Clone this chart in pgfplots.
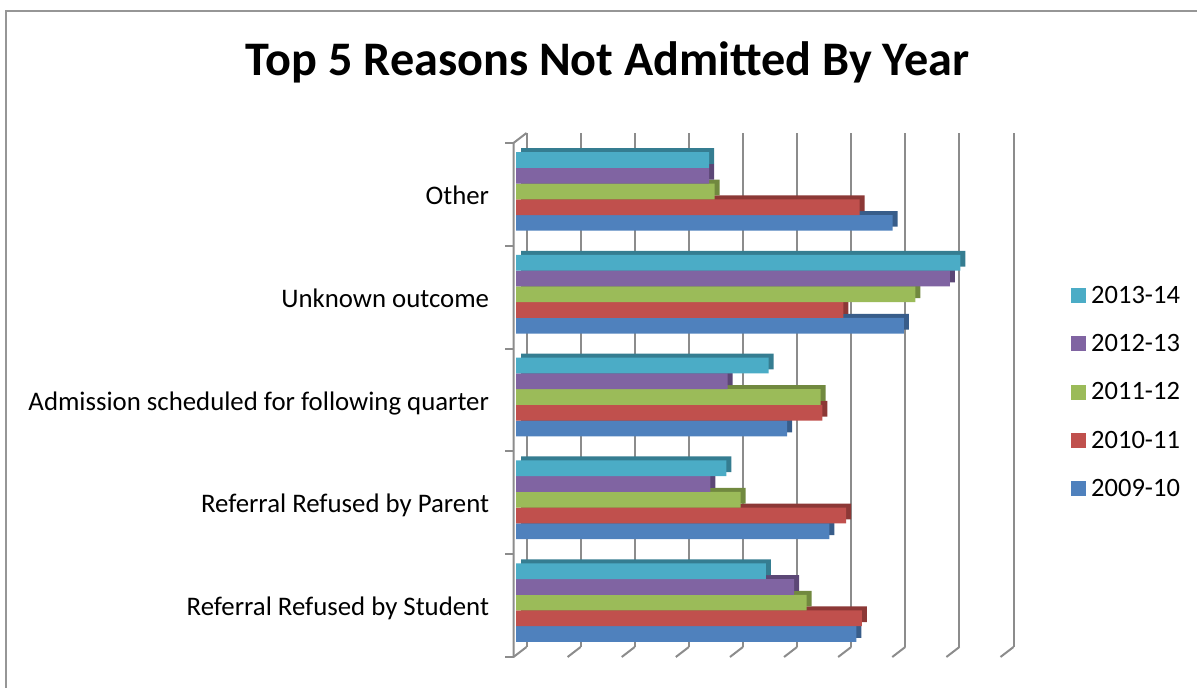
\documentclass[border=0pt]{standalone}
\usepackage{pgfplots}
\pgfplotsset{compat=1.18}
\usepackage{fontspec}
\setmainfont{Carlito}
\definecolor{cA}{HTML}{4F81BD}\definecolor{dA}{HTML}{385D8A}
\definecolor{cB}{HTML}{C0504D}\definecolor{dB}{HTML}{8C3836}
\definecolor{cC}{HTML}{9BBB59}\definecolor{dC}{HTML}{71893F}
\definecolor{cD}{HTML}{8064A2}\definecolor{dD}{HTML}{5C4776}
\definecolor{cE}{HTML}{4BACC6}\definecolor{dE}{HTML}{357D91}
\definecolor{gridc}{RGB}{140,140,140}
\definecolor{borderc}{RGB}{150,150,150}

% y: 0 Referral Refused by Student, 1 Referral Refused by Parent,
%    2 Admission scheduled..., 3 Unknown outcome, 4 Other
\pgfplotstableread{
y v
0 6.29
1 5.79
2 5.01
3 7.17
4 6.96
}\tA
\pgfplotstableread{
y v
0 6.39
1 6.10
2 5.66
3 6.05
4 6.35
}\tB
\pgfplotstableread{
y v
0 5.37
1 4.15
2 5.63
3 7.38
4 3.67
}\tC
\pgfplotstableread{
y v
0 5.14
1 3.59
2 3.91
3 8.02
4 3.57
}\tD
\pgfplotstableread{
y v
0 4.62
1 3.89
2 4.67
3 8.21
4 3.57
}\tE

\begin{document}
\begin{tikzpicture}
\useasboundingbox (0,0) rectangle (1197bp,688bp);
\draw[line width=2bp, borderc] (6.3bp,0) -- (6.3bp,677bp) -- (1197bp,677bp);
\node[font=\fontsize{48.2bp}{58bp}\selectfont\bfseries, anchor=base] at (607.5bp,612bp) {Top 5 Reasons Not Admitted By Year};
\begin{axis}[
  at={(516bp,31bp)}, anchor=south west,
  scale only axis, width=487bp, height=514bp,
  xmin=0, xmax=9, ymin=-0.5, ymax=4.5,
  clip=false,
  axis line style={draw=none},
  major tick style={draw=none},
  xtick=\empty,
  ytick={0,1,2,3,4},
  yticklabels={Referral Refused by Student, Referral Refused by Parent, Admission scheduled for following quarter, Unknown outcome, Other},
  yticklabel style={font=\fontsize{26.8bp}{32bp}\selectfont, inner sep=0pt, text height=0.9em, text depth=0.26em, yshift=-7bp},
  yticklabel shift=22.5bp,
  xbar, bar width=0.153,
  reverse legend,
  legend cell align=left,
  legend image code/.code={\fill[#1,draw=none] (0bp,-7.5bp) rectangle (15bp,7.5bp);},
  legend style={at={(1.1397,0.5155)}, anchor=west, draw=none, fill=none,
    font=\fontsize{26.5bp}{32bp}\selectfont, inner sep=0pt,
    nodes={inner sep=2bp}, column sep=3bp, row sep=25.7bp},
]
% back wall grid and floor (wall drawn 2.5bp left of the bar origin)
\pgfplotsinvokeforeach{0,...,9}{
  \draw[gridc, line width=2bp] ([xshift=10.5bp,yshift=10bp]axis cs:#1,-0.5) -- ([xshift=10.5bp,yshift=10bp]axis cs:#1,4.5);
  \draw[gridc, line width=2bp] ([xshift=-2.5bp]axis cs:#1,-0.5) -- ++(13bp,10bp);
}
\draw[gridc, line width=2bp] ([xshift=-2.5bp]axis cs:0,-0.5) -- ([xshift=-2.5bp]axis cs:0,4.5) -- ++(13bp,10bp);
\pgfplotsinvokeforeach{-0.5,0.5,1.5,2.5,3.5,4.5}{
  \draw[gridc, line width=2bp] ([xshift=-2.5bp]axis cs:0,#1) -- ++(-9bp,0bp);
}
% bars: shadow (depth) then front, bottom series first
\addplot[xbar, fill=dA, draw=none, bar shift=-0.277, xshift=5bp, yshift=4bp, forget plot] table[x=v,y=y]{\tA};
\addplot[xbar, fill=cA, draw=none, bar shift=-0.277] table[x=v,y=y]{\tA};
\addlegendentry{2009-10}
\addplot[xbar, fill=dB, draw=none, bar shift=-0.124, xshift=5bp, yshift=4bp, forget plot] table[x=v,y=y]{\tB};
\addplot[xbar, fill=cB, draw=none, bar shift=-0.124] table[x=v,y=y]{\tB};
\addlegendentry{2010-11}
\addplot[xbar, fill=dC, draw=none, bar shift=0.029, xshift=5bp, yshift=4bp, forget plot] table[x=v,y=y]{\tC};
\addplot[xbar, fill=cC, draw=none, bar shift=0.029] table[x=v,y=y]{\tC};
\addlegendentry{2011-12}
\addplot[xbar, fill=dD, draw=none, bar shift=0.182, xshift=5bp, yshift=4bp, forget plot] table[x=v,y=y]{\tD};
\addplot[xbar, fill=cD, draw=none, bar shift=0.182] table[x=v,y=y]{\tD};
\addlegendentry{2012-13}
\addplot[xbar, fill=dE, draw=none, bar shift=0.335, xshift=5bp, yshift=4bp, forget plot] table[x=v,y=y]{\tE};
\addplot[xbar, fill=cE, draw=none, bar shift=0.335] table[x=v,y=y]{\tE};
\addlegendentry{2013-14}
\end{axis}
\end{tikzpicture}
\end{document}
